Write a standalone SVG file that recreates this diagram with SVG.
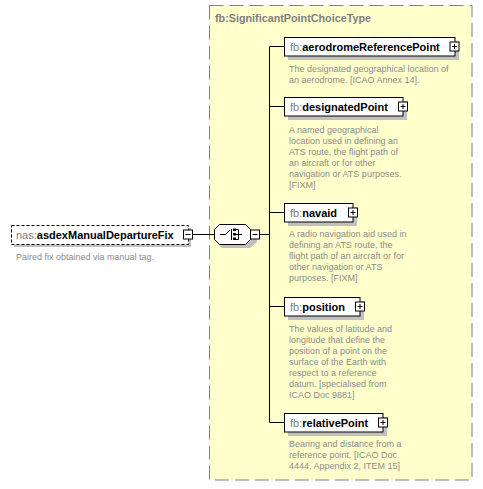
<svg xmlns="http://www.w3.org/2000/svg" width="483" height="489" viewBox="0 0 483 489">
<style>
.name{font-family:"Liberation Sans",Arial,sans-serif;font-size:11px;fill:#000}
.pfx{font-weight:normal;fill:#808080}
.bold{font-weight:bold}
.desc{font-family:"Liberation Sans",Arial,sans-serif;font-size:9px;fill:#8c8c8c}
.title{font-family:"Liberation Sans",Arial,sans-serif;font-size:11px;font-weight:bold;fill:#808080}
.box{fill:#fff;stroke:#000;stroke-width:1}
.shadow{fill:#c0c0c0}
.conn{stroke:#000;stroke-width:1;fill:none}
.icon{fill:#fff;stroke:#000;stroke-width:1}
</style>
<defs>
<g id="plus"><rect class="icon" x="0.5" y="0.5" width="9" height="9"/><path d="M2.5 5H7.5M5 2.5V7.5" stroke="#000" stroke-width="1"/></g>
<g id="minus"><rect class="icon" x="0.5" y="0.5" width="9" height="9"/><path d="M2.5 5H7.5" stroke="#000" stroke-width="1"/></g>
</defs>
<rect fill="#fff" x="0" y="0" width="483" height="489"/>
<g id="type">
<rect x="209.5" y="5.5" width="262.5" height="474.5" fill="#ffffcc" stroke="#808080" stroke-width="1" stroke-dasharray="14,6"/>
<text class="title" x="215" y="22" textLength="156" lengthAdjust="spacingAndGlyphs">fb:SignificantPointChoiceType</text>
</g>
<g id="connectors">
<path class="conn" d="M193 234.5H214M260 234.5H269.5M269.5 46.5V422.5M269.5 46.5H284M269.5 106.5H284M269.5 212.5H284M269.5 306.5H284M269.5 422.5H284"/>
</g>
<g id="asdexManualDepartureFix">
<rect class="shadow" x="14" y="228" width="177" height="19"/>
<rect x="11.5" y="225.5" width="177" height="19" fill="#fff" stroke="#000" stroke-dasharray="3,2"/>
<text class="name" x="16" y="239"><tspan class="pfx">nas:</tspan><tspan class="bold">asdexManualDepartureFix</tspan></text>
<use href="#minus" x="183" y="229.5"/>
<text class="desc" x="16" y="260">Paired fix obtained via manual tag.</text>
</g>
<g id="choice">
<path class="shadow" d="M222 228H250L257 235V242L250 248H222L217 242V235Z"/>
<path class="icon" d="M219.5 224.5H245.5L250.5 229.5V239.5L245.5 244.5H219.5L214.5 239.5V229.5Z"/>
<path d="M220 234.5H225.5L230 230" stroke="#000" stroke-width="1" fill="none"/>
<path d="M231.5 229V240" stroke="#000" stroke-width="1"/>
<rect x="233" y="228.5" width="3" height="2.5" fill="#000"/>
<rect x="233" y="233" width="3" height="2.5" fill="#000"/>
<rect x="233" y="237.5" width="3" height="2.5" fill="#000"/>
<path d="M236 234.5H242M238.5 229.5V239.5M236 229.5H238.5M236 239.5H238.5" stroke="#000" stroke-width="1" fill="none"/>
<use href="#minus" x="250" y="229.5"/>
</g>
<g id="aerodromeReferencePoint">
<rect class="shadow" x="288" y="41" width="171" height="19"/>
<rect class="box" x="284.5" y="37.5" width="170.5" height="18.5"/>
<text class="name" x="290" y="51"><tspan class="pfx">fb:</tspan><tspan class="bold">aerodromeReferencePoint</tspan></text>
<use href="#plus" x="449.5" y="41.5"/>
<text class="desc" x="289"><tspan x="289" y="72">The designated geographical location of</tspan><tspan x="289" y="83">an aerodrome. [ICAO Annex 14].</tspan></text>
</g>
<g id="designatedPoint">
<rect class="shadow" x="288" y="101" width="119" height="19"/>
<rect class="box" x="284.5" y="97.5" width="118.5" height="18.5"/>
<text class="name" x="290" y="111"><tspan class="pfx">fb:</tspan><tspan class="bold">designatedPoint</tspan></text>
<use href="#plus" x="398" y="101.5"/>
<text class="desc"><tspan x="289" y="133">A named geographical</tspan><tspan x="289" y="144">location used in defining an</tspan><tspan x="289" y="155">ATS route, the flight path of</tspan><tspan x="289" y="166">an aircraft or for other</tspan><tspan x="289" y="177">navigation or ATS purposes.</tspan><tspan x="289" y="188">[FIXM]</tspan></text>
</g>
<g id="navaid">
<rect class="shadow" x="288" y="207" width="69" height="19"/>
<rect class="box" x="284.5" y="203.5" width="68.5" height="18.5"/>
<text class="name" x="290" y="217"><tspan class="pfx">fb:</tspan><tspan class="bold">navaid</tspan></text>
<use href="#plus" x="348" y="207.5"/>
<text class="desc"><tspan x="289" y="237">A radio navigation aid used in</tspan><tspan x="289" y="248">defining an ATS route, the</tspan><tspan x="289" y="259">flight path of an aircraft or for</tspan><tspan x="289" y="270">other navigation or ATS</tspan><tspan x="289" y="281">purposes. [FIXM]</tspan></text>
</g>
<g id="position">
<rect class="shadow" x="288" y="301" width="76" height="19"/>
<rect class="box" x="284.5" y="297.5" width="75.5" height="18.5"/>
<text class="name" x="290" y="311"><tspan class="pfx">fb:</tspan><tspan class="bold">position</tspan></text>
<use href="#plus" x="355" y="301.5"/>
<text class="desc"><tspan x="289" y="332">The values of latitude and</tspan><tspan x="289" y="343">longitude that define the</tspan><tspan x="289" y="354">position of a point on the</tspan><tspan x="289" y="365">surface of the Earth with</tspan><tspan x="289" y="376">respect to a reference</tspan><tspan x="289" y="387">datum. [specialised from</tspan><tspan x="289" y="398">ICAO Doc 9881]</tspan></text>
</g>
<g id="relativePoint">
<rect class="shadow" x="288" y="417" width="99" height="19"/>
<rect class="box" x="284.5" y="413.5" width="98.5" height="18.5"/>
<text class="name" x="290" y="427"><tspan class="pfx">fb:</tspan><tspan class="bold">relativePoint</tspan></text>
<use href="#plus" x="378" y="417.5"/>
<text class="desc"><tspan x="289" y="447">Bearing and distance from a</tspan><tspan x="289" y="458">reference point. [ICAO Doc</tspan><tspan x="289" y="469">4444, Appendix 2, ITEM 15]</tspan></text>
</g>
</svg>
